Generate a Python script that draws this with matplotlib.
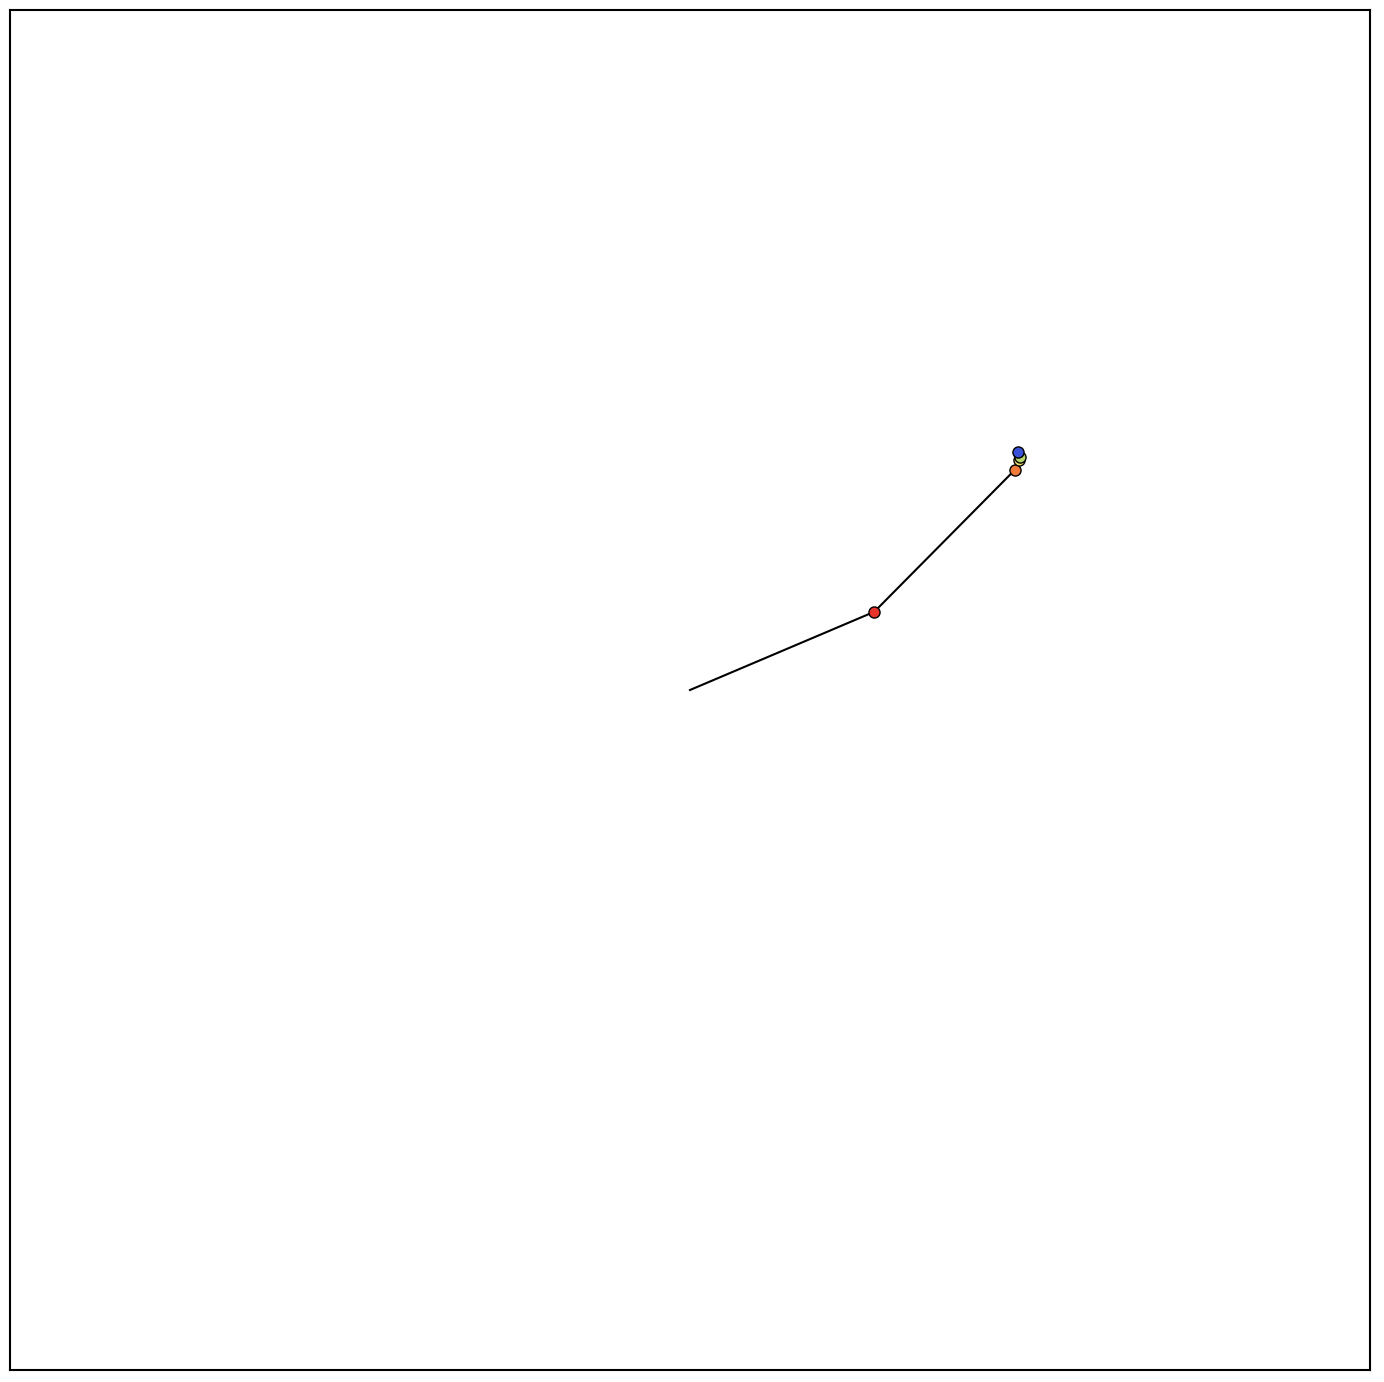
import matplotlib

matplotlib.use("Agg")

import matplotlib.pyplot as plt

# optimisation path, start at the origin
path_x = [0.0, 0.271, 0.478, 0.484, 0.485, 0.482]
path_y = [0.0, 0.115, 0.324, 0.338, 0.343, 0.350]
step_colors = ["#e8332a", "#f07a3a", "#f2e06a", "#b8d86a", "#3a52d8"]

fig = plt.figure(figsize=(13.84, 13.82), dpi=100)
ax = fig.add_axes([10 / 1384, 12 / 1382, 1360 / 1384, 1360 / 1382])

ax.plot(path_x, path_y, color="black", linewidth=1.5, zorder=1)
for x, y, c in zip(path_x[1:], path_y[1:], step_colors):
    ax.plot(x, y, marker="o", markersize=8, markerfacecolor=c,
            markeredgecolor="black", markeredgewidth=1.0, zorder=2)

ax.set_xlim(-1, 1)
ax.set_ylim(-1, 1)
ax.set_xticks([])
ax.set_yticks([])
for spine in ax.spines.values():
    spine.set_linewidth(1.5)

fig.savefig("out.png", dpi=100)
